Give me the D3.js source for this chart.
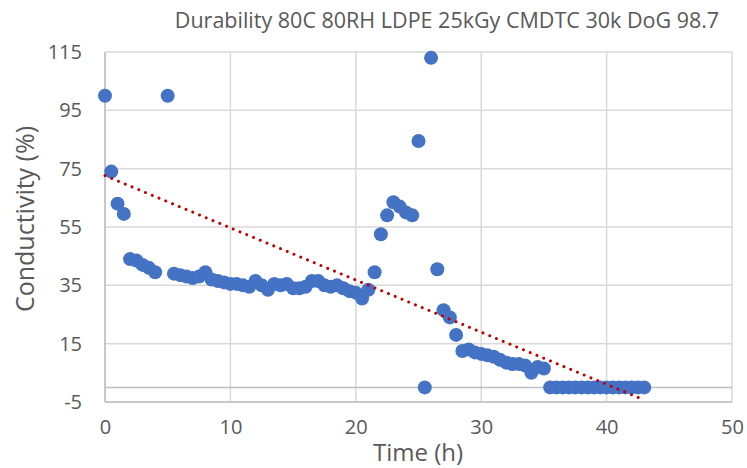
<!DOCTYPE html>
<html>
<head>
<meta charset="utf-8">
<script src="https://cdn.jsdelivr.net/npm/d3@7"></script>
<style>
    body { margin: 0; background: #fff; }
    text { font-family: "Open Sans", sans-serif; fill: #595959; }
</style>
</head>
<body>
<div id="my-svg"></div>
<script>
var svg;
var xScale, yScale;
var width, height, margin;

// Time (h) of each measurement
var times = [0, 0.5, 1, 1.5, 2, 2.5, 3, 3.5, 4, 5, 5.5, 6, 6.5, 7, 7.5, 8, 8.5, 9, 9.5, 10,
    10.5, 11, 11.5, 12, 12.5, 13, 13.5, 14, 14.5, 15, 15.5, 16, 16.5, 17, 17.5, 18, 18.5, 19, 19.5, 20,
    20.5, 21, 21.5, 22, 22.5, 23, 23.5, 24, 24.5, 25, 25.5, 26, 26.5, 27, 27.5, 28, 28.5, 29, 29.5, 30,
    30.5, 31, 31.5, 32, 32.5, 33, 33.5, 34, 34.5, 35, 35.5, 36, 36.5, 37, 37.5, 38, 38.5, 39, 39.5, 40,
    40.5, 41, 41.5, 42, 42.5, 43];

// Conductivity (%) at each time
var conductivity = [100, 74, 63, 59.5, 44, 43.5, 42, 41, 39.5, 100, 39, 38.5, 38, 37.5, 38, 39.5, 37, 36.5, 36, 35.5,
    35.5, 35, 34.5, 36.5, 35, 33.5, 35.5, 35, 35.5, 34, 34, 34.5, 36.5, 36.5, 35, 34.5, 35, 34, 33, 32.5,
    30.5, 33.5, 39.5, 52.5, 59, 63.5, 62, 60, 59, 84.5, 0, 113, 40.5, 26.5, 24, 18, 12.5, 13, 12, 11.5,
    11, 10.5, 9.5, 8.5, 8, 8, 7.5, 5, 7, 6.5, 0, 0, 0, 0, 0, 0, 0, 0, 0, 0,
    0, 0, 0, 0, 0, 0];

// Linear trendline as drawn in the chart (start and end)
var trendTimes = [0, 42.6];
var trendValues = [72.6, -3.6];

var xTicks = [0, 10, 20, 30, 40, 50];
var yTicks = [-5, 15, 35, 55, 75, 95, 115];

var chartTitle = "Durability 80C 80RH LDPE 25kGy CMDTC 30k DoG 98.7";
var xTitle = "Time (h)";
var yTitle = "Conductivity (%)";

function createBaseGraph() {
    margin = { top: 52, right: 15, bottom: 66, left: 105 },
        width = 747 - margin.left - margin.right,
        height = 468 - margin.top - margin.bottom;

    svg = d3.select("#my-svg")
        .append("svg")
        .attr("width", 747)
        .attr("height", 468)
        .append("g")
        .attr("transform", "translate(" + margin.left + "," + margin.top + ")");
}

function initAxis() {
    xScale = d3.scaleLinear().domain([0, 50]).range([0, 627]);
    yScale = d3.scaleLinear().domain([-5, 115]).range([350, 0]);

    // grid lines
    svg.append("g").selectAll("line.hgrid")
        .data(yTicks)
        .enter().append("line")
        .attr("x1", 0).attr("x2", xScale(50))
        .attr("y1", function (d) { return yScale(d); })
        .attr("y2", function (d) { return yScale(d); })
        .attr("stroke", "#d9d9d9").attr("stroke-width", 1.5);
    svg.append("g").selectAll("line.vgrid")
        .data(xTicks)
        .enter().append("line")
        .attr("y1", yScale(-5)).attr("y2", yScale(115))
        .attr("x1", function (d) { return xScale(d); })
        .attr("x2", function (d) { return xScale(d); })
        .attr("stroke", "#d9d9d9").attr("stroke-width", 1.5);

    // axis lines (horizontal axis crosses at 0)
    svg.append("line")
        .attr("x1", 0).attr("x2", xScale(50))
        .attr("y1", yScale(0)).attr("y2", yScale(0))
        .attr("stroke", "#bfbfbf").attr("stroke-width", 1.5);
    svg.append("line")
        .attr("x1", 0).attr("x2", 0)
        .attr("y1", yScale(-5)).attr("y2", yScale(115))
        .attr("stroke", "#bfbfbf").attr("stroke-width", 1.5);
    svg.append("line")
        .attr("x1", 0).attr("x2", xScale(50))
        .attr("y1", yScale(-5)).attr("y2", yScale(-5))
        .attr("stroke", "#bfbfbf").attr("stroke-width", 1.5);

    // tick labels
    svg.append("g")
        .attr("transform", "translate(0," + yScale(-5) + ")")
        .call(d3.axisBottom(xScale).tickValues(xTicks).tickFormat(function (d) { return String(d); })
            .tickSize(0).tickPadding(18))
        .call(function (g) { g.select(".domain").remove(); })
        .selectAll("text")
        .style("font-size", "20px")
        .attr("fill", "#595959");

    svg.append("g")
        .call(d3.axisLeft(yScale).tickValues(yTicks).tickFormat(function (d) { return String(d); })
            .tickSize(0).tickPadding(23))
        .call(function (g) { g.select(".domain").remove(); })
        .selectAll("text")
        .style("font-size", "20px")
        .attr("fill", "#595959");
}

function addTitles() {
    svg.append("text")
        .attr("x", 342)
        .attr("y", -24)
        .attr("text-anchor", "middle")
        .style("font-size", "21.5px")
        .text(chartTitle);

    svg.append("text")
        .attr("x", 313)
        .attr("y", 409)
        .attr("text-anchor", "middle")
        .style("font-size", "24px")
        .text(xTitle);

    svg.append("text")
        .attr("transform", "translate(-71,167) rotate(-90)")
        .attr("text-anchor", "middle")
        .style("font-size", "25px")
        .text(yTitle);
}

function drawPoints(data) {
    svg.append("g").selectAll("circle")
        .data(data)
        .enter().append("circle")
        .attr("cx", function (d) { return xScale(d.t); })
        .attr("cy", function (d) { return yScale(d.c); })
        .attr("r", 7)
        .attr("fill", "#4472c4");
}

// dotted linear trendline
function drawTrend(pts) {
    svg.append("path")
        .datum(pts)
        .attr("fill", "none")
        .attr("stroke", "#c00000")
        .attr("stroke-width", 3)
        .attr("stroke-linecap", "round")
        .attr("stroke-dasharray", "0.01 7.3")
        .attr("d", d3.line()
            .x(function (d) { return xScale(d.t); })
            .y(function (d) { return yScale(d.c); }));
}

createBaseGraph();
initAxis();
addTitles();
var data = times.map(function (t, i) { return { t: t, c: conductivity[i] }; });
drawPoints(data);
drawTrend(trendTimes.map(function (t, i) { return { t: t, c: trendValues[i] }; }));
</script>
</body>
</html>
